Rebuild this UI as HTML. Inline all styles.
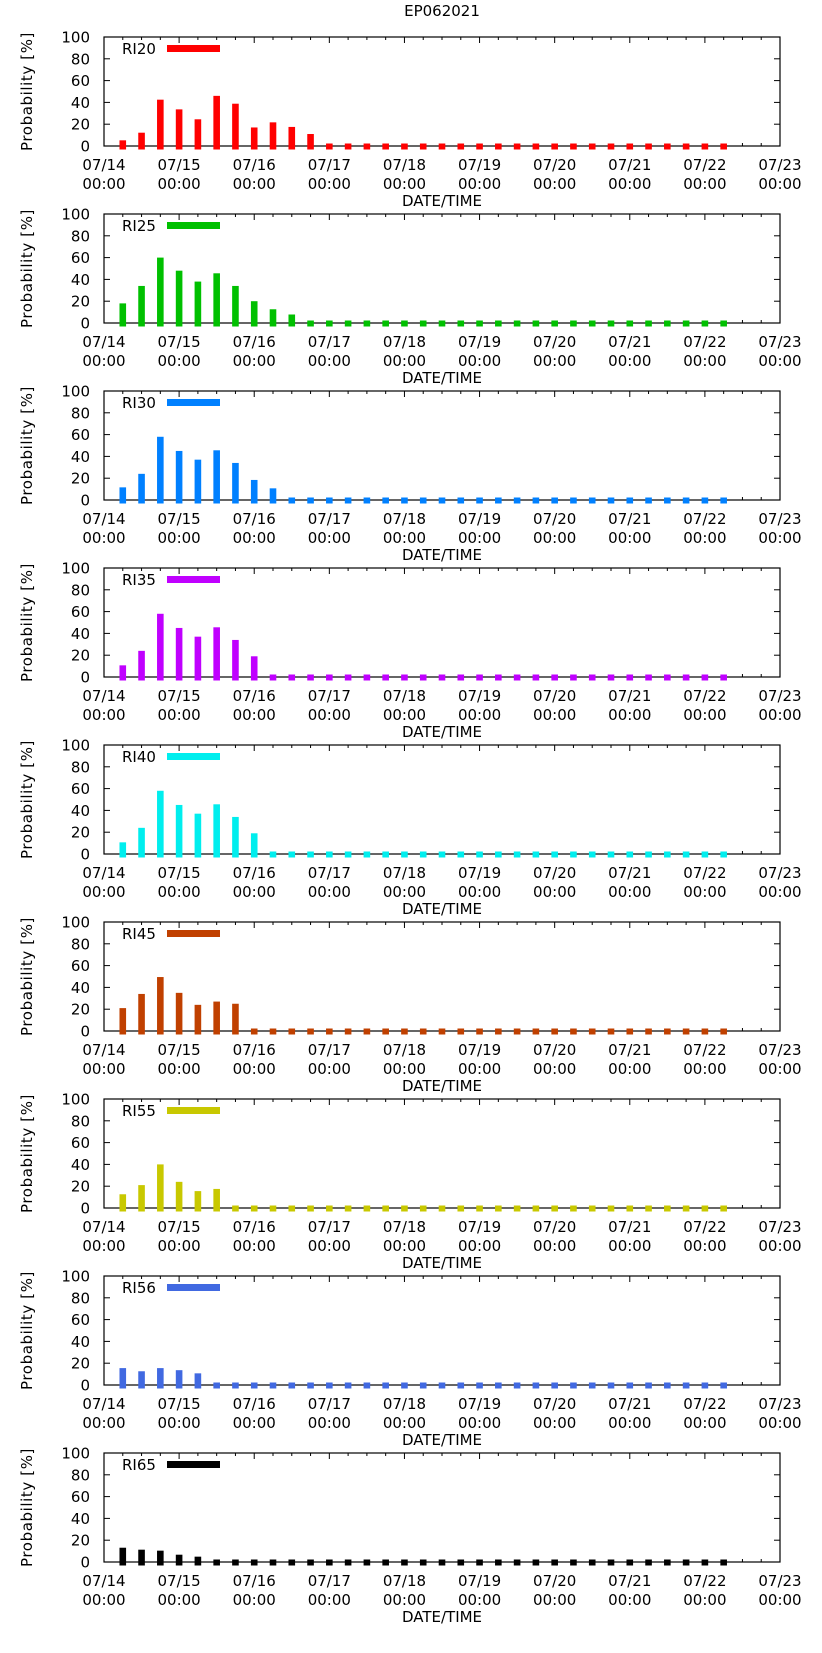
<!DOCTYPE html>
<html><head><meta charset="utf-8"><style>
html,body{margin:0;padding:0;background:#fff;}
svg{display:block;font-family:"DejaVu Sans","Liberation Sans",sans-serif;}
</style></head><body>
<svg id="chart" width="822" height="1653" viewBox="0 0 822 1653" xmlns="http://www.w3.org/2000/svg">
<text x="442" y="16" font-size="15" text-anchor="middle">EP062021</text>
</svg>
<script>
const seriesNames = ["RI20","RI25","RI30","RI35","RI40","RI45","RI55","RI56","RI65"];
const ri20 = [5.2,12.2,42.5,33.6,24.5,46,38.8,17,21.7,17.5,11];
const ri25 = [18,34,60,48,38,45.6,34,20,12.6,7.8];
const ri30 = [11.6,24,58,45,37,45.6,34,18.4,10.7];
const ri35 = [10.7,24,58,45,37,45.6,34,19];
const ri40 = [10.7,24,58,45,37,45.6,34,19];
const ri45 = [21,34,49.5,35,24,27,25];
const ri55 = [12.6,21,40,24,15.5,17.5];
const ri56 = [15.5,12.6,15.5,13.6,10.7];
const ri65 = [13.1,11.3,10.4,6.7,4.9];
const seriesValues = [ri20,ri25,ri30,ri35,ri40,ri45,ri55,ri56,ri65];
const seriesColors = ["#ff0000","#00c000","#0080ff","#c000ff","#00eeee","#c04000","#c8c800","#4169e1","#000000"];
const dayLabels = ["07/14","07/15","07/16","07/17","07/18","07/19","07/20","07/21","07/22","07/23"];
const yTicks = [0,20,40,60,80,100];
const nBars = 33;

const NS = "http://www.w3.org/2000/svg";
const svg = document.getElementById("chart");
const L = 104, R = 780, H = 109, TOP0 = 37, STEP = 177;
const dayW = (R - L) / 9;
function xDay(d){ return L + d * dayW; }
function mk(tag, attrs, parent){
  const e = document.createElementNS(NS, tag);
  for (const k in attrs) e.setAttribute(k, attrs[k]);
  (parent || svg).appendChild(e);
  return e;
}
seriesNames.forEach((name, p) => {
  const top = TOP0 + p * STEP, base = top + H;
  const yv = v => base - v / 100 * H;
  const g = mk("g", {});
  
  
  const fr = mk("rect", {x: L, y: top, width: R - L, height: H, fill: "none", stroke: "#000", "stroke-width": 1.2}, g);
  
  
  for (let q = 0; q <= 36; q++) {
    const x = xDay(q / 4), len = q % 4 === 0 ? 6 : 3;
    if (q < 1 || q > nBars) mk("line", {x1: x, x2: x, y1: base, y2: base - len, stroke: "#000", "stroke-width": 1}, g);
    mk("line", {x1: x, x2: x, y1: top, y2: top + len, stroke: "#000", "stroke-width": 1}, g);
  }
  const vals = seriesValues[p];
  for (let i = 0; i < nBars; i++) {
    const v = i < vals.length ? vals[i] : 0;
    const cx = xDay((i + 1) * 0.25);
    const yt = Math.min(yv(v), base - 2.5);
    const b = mk("rect", {x: cx - 3.3, y: yt, width: 6.6, height: base + 3.5 - yt, fill: seriesColors[p]}, g);
    
    
  }
  dayLabels.forEach((lab, d) => {
    const t = mk("text", {x: xDay(d), y: base + 24, "font-size": 15, "text-anchor": "middle"}, g);
    t.textContent = lab;
    
    
    const t2 = mk("text", {x: xDay(d), y: base + 43, "font-size": 15, "text-anchor": "middle"}, g);
    t2.textContent = "00:00";
    
    
  });
  yTicks.forEach(v => {
    const y = yv(v);
    mk("line", {x1: L, x2: L + 6, y1: y, y2: y, stroke: "#000", "stroke-width": 1}, g);
    mk("line", {x1: R, x2: R - 6, y1: y, y2: y, stroke: "#000", "stroke-width": 1}, g);
    const t = mk("text", {x: 90, y: y + 5.5, "font-size": 15, "text-anchor": "end"}, g);
    t.textContent = v;
    
    
  });
  const xt = mk("text", {x: 442, y: base + 60, "font-size": 15, "text-anchor": "middle"}, g);
  xt.textContent = "DATE/TIME";
  
  
  const yt = mk("text", {x: 0, y: 0, "font-size": 15, "letter-spacing": "0.6", "text-anchor": "middle", transform: "translate(32," + (top + H / 2) + ") rotate(-90)"}, g);
  yt.textContent = "Probability [%]";
  
  
  const lt = mk("text", {x: 122, y: top + 17, "font-size": 15}, g);
  lt.textContent = name;
  
  
  const ls = mk("rect", {x: 167, y: top + 8, width: 53, height: 7, fill: seriesColors[p]}, g);
  
  
});
</script>
</body></html>
